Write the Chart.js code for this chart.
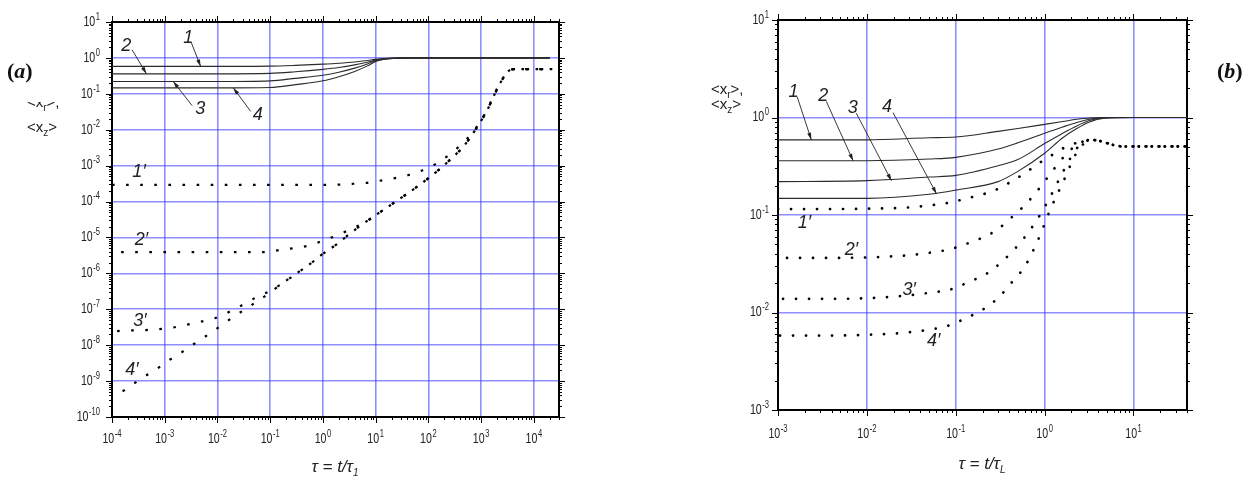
<!DOCTYPE html>
<html lang="en">
<head>
<meta charset="UTF-8" />
<title>&lt;x_r&gt;, &lt;x_z&gt; vs tau</title>
<script src="https://cdn.jsdelivr.net/npm/chart.js"></script>
<style>
  body { margin: 0; background: #fff; width: 1249px; height: 482px; position: relative; overflow: hidden;
         font-family: "Liberation Sans", Arial, sans-serif; color: #222; }
  .panel { position: absolute; top: 0; height: 482px; }
  #boxA { left: 0; width: 600px; }
  #boxB { left: 640px; width: 609px; }
  .tag { position: absolute; font: bold 22px/22px "Liberation Serif", "Times New Roman", serif; color: #111; }
  .ytitle { position: absolute; font-size: 15px; line-height: 15px; white-space: nowrap; }
  .clip { position: absolute; overflow: hidden; width: 40px; }
  .clip span { position: absolute; left: 0; }
  .xtitle { position: absolute; font-style: italic; font-size: 17px; line-height: 17px; white-space: nowrap; transform: translateX(-50%); }
  sub { font-size: 10px; vertical-align: -4px; line-height: 0; }
</style>
</head>
<body>
  <div class="panel" id="boxA"><canvas id="chartA"></canvas></div>
  <div class="panel" id="boxB"><canvas id="chartB"></canvas></div>

  <div class="tag" style="left:7px;top:60px">(<i>a</i>)</div>
  <div class="tag" style="left:1217px;top:60px">(<i>b</i>)</div>

  <!-- y titles: the upper line of (a) is half hidden in the original -->
  <div class="clip" style="left:27px;top:102px;height:12px"><span class="ytitle" style="top:-8px">&lt;x<sub>r</sub>&gt;,</span></div>
  <div class="ytitle" style="left:27px;top:119px">&lt;x<sub>z</sub>&gt;</div>
  <div class="ytitle" style="left:711px;top:81px">&lt;x<sub>r</sub>&gt;,</div>
  <div class="ytitle" style="left:711px;top:96px">&lt;x<sub>z</sub>&gt;</div>

  <div class="xtitle" style="left:335px;top:458px">τ = t/τ<sub>1</sub></div>
  <div class="xtitle" style="left:982px;top:455px">τ = t/τ<sub>L</sub></div>

<script>
  // ---------- panel (a) : tau = t/tau_1 ----------
  const aSolidX = [1e-4, 0.01, 0.1, 0.3, 1, 2, 4, 7, 10, 15, 25, 40, 2e4];
  const aLine1 = [0.58, 0.58, 0.59, 0.62, 0.67, 0.71, 0.77, 0.85, 0.91, 0.96, 0.99, 1, 1];
  const aLine2 = [0.36, 0.36, 0.37, 0.41, 0.48, 0.54, 0.64, 0.76, 0.87, 0.95, 0.99, 1, 1];
  const aLine3 = [0.22, 0.22, 0.23, 0.27, 0.33, 0.40, 0.52, 0.68, 0.84, 0.93, 0.985, 1, 1];
  const aLine4 = [0.146, 0.146, 0.15, 0.18, 0.23, 0.30, 0.42, 0.60, 0.80, 0.92, 0.98, 1, 1];

  const aDotX = [1e-4, 1.86e-4, 3.47e-4, 6.46e-4, 1.17e-3, 2.19e-3, 4.07e-3, 7.59e-3, 0.0138, 0.0257, 0.0479,
                 0.0891, 0.162, 0.302, 0.562, 1.0, 1.86, 3.47, 6.46, 12.0, 21.9, 40.7, 74.1, 138, 257, 468,
                 813, 1290, 1820, 2690, 3800, 5620, 22400];
  const aDot1 = [2.9e-4, 2.9e-4, 2.9e-4, 2.9e-4, 2.9e-4, 2.9e-4, 2.9e-4, 2.9e-4, 2.9e-4, 2.9e-4, 2.9e-4,
                 2.9e-4, 2.9e-4, 2.9e-4, 2.9e-4, 2.9e-4, 2.95e-4, 3.1e-4, 3.3e-4, 3.8e-4, 4.4e-4, 5.4e-4,
                 7.2e-4, 1.12e-3, 2.1e-3, 4.5e-3, 0.0117, 0.035, 0.105, 0.295, 0.48, 0.49, 0.49];
  const aDot2 = [3.9e-6, 3.9e-6, 3.9e-6, 3.9e-6, 3.9e-6, 3.9e-6, 3.9e-6, 3.9e-6, 3.9e-6, 3.9e-6, 3.9e-6,
                 3.9e-6, 4.6e-6, 5.1e-6, 6.0e-6, 8.1e-6, 1.15e-5, 1.74e-5, 2.7e-5, 5.0e-5, 9.1e-5, 1.7e-4,
                 3.2e-4, 6.5e-4, 1.45e-3, 3.5e-3, 0.011, 0.034, 0.10, 0.29, 0.48, 0.49, 0.49];
  const aDot3 = [2.4e-8, 2.57e-8, 2.6e-8, 2.75e-8, 2.95e-8, 3.5e-8, 4.3e-8, 5.2e-8, 7.4e-8, 1.17e-7, 1.95e-7,
                 3.0e-7, 5.0e-7, 9.5e-7, 1.8e-6, 3.5e-6, 6.6e-6, 1.38e-5, 2.7e-5, 5.0e-5, 9.1e-5, 1.7e-4,
                 3.2e-4, 6.5e-4, 1.45e-3, 3.5e-3, 0.011, 0.034, 0.10, 0.29, 0.48, 0.49, 0.49];
  const aDot4 = [3.6e-10, 6.0e-10, 1.15e-9, 2.0e-9, 3.7e-9, 6.6e-9, 1.23e-8, 2.24e-8, 4.2e-8, 7.8e-8, 1.41e-7,
                 2.6e-7, 5.0e-7, 9.5e-7, 1.8e-6, 3.5e-6, 6.6e-6, 1.38e-5, 2.7e-5, 5.0e-5, 9.1e-5, 1.7e-4,
                 3.2e-4, 6.5e-4, 1.45e-3, 3.5e-3, 0.011, 0.034, 0.10, 0.29, 0.48, 0.49, 0.49];

  const aXExp = [-4, -3, -2, -1, 0, 1, 2, 3, 4];
  const aYExp = [-10, -9, -8, -7, -6, -5, -4, -3, -2, -1, 0, 1];

  // curve labels (data coordinates), arrows point at the curve
  const aNotes = [
    { t: '1', x: 2.8e-3, y: 3.7, from: [3.18e-3, 2.7], to: [4.8e-3, 0.58] },
    { t: '2', x: 1.87e-4, y: 2.19, from: [2.4e-4, 1.69], to: [4.5e-4, 0.36] },
    { t: '3', x: 4.7e-3, y: 0.0368, from: [3.3e-3, 0.047], to: [1.45e-3, 0.22] },
    { t: '4', x: 0.0578, y: 0.0262, from: [0.0427, 0.0324], to: [0.02, 0.146] },
    { t: '1′', x: 3.26e-4, y: 6.6e-4 },
    { t: '2′', x: 3.6e-4, y: 8.6e-6 },
    { t: '3′', x: 3.4e-4, y: 4.6e-8 },
    { t: '4′', x: 2.4e-4, y: 2.07e-9 }
  ];

  // ---------- panel (b) : tau = t/tau_L ----------
  const bSolidX = [0.001, 0.01, 0.05, 0.1, 0.3, 0.5, 1, 1.6, 2.3, 3.2, 4.5, 10, 40];
  const bLine1 = [0.59, 0.59, 0.62, 0.63, 0.72, 0.77, 0.85, 0.91, 0.96, 0.99, 1, 1, 1];
  const bLine2 = [0.36, 0.36, 0.375, 0.39, 0.475, 0.55, 0.69, 0.80, 0.89, 0.96, 1, 1, 1];
  const bLine3 = [0.22, 0.225, 0.245, 0.255, 0.32, 0.37, 0.54, 0.69, 0.82, 0.93, 0.99, 1, 1];
  const bLine4 = [0.148, 0.148, 0.163, 0.18, 0.22, 0.28, 0.43, 0.62, 0.77, 0.90, 0.98, 1, 1];

  const bDotX = [0.001, 0.00316, 0.01, 0.0316, 0.0575, 0.0813, 0.115, 0.158, 0.224, 0.309, 0.427, 0.603,
                 0.832, 1.175, 1.62, 2.29, 2.82, 3.31, 3.98, 5.01, 6.31, 7.94, 10, 40];
  const bDot1 = [0.115, 0.115, 0.116, 0.120, 0.127, 0.133, 0.143, 0.154, 0.168, 0.188, 0.222, 0.269,
                 0.332, 0.405, 0.484, 0.55, 0.58, 0.59, 0.58, 0.547, 0.515, 0.504, 0.505, 0.505];
  const bDot2 = [0.0363, 0.0363, 0.0367, 0.0389, 0.0417, 0.044, 0.0483, 0.054, 0.0612, 0.0735, 0.095, 0.127,
                 0.178, 0.269, 0.389, 0.525, 0.575, 0.59, 0.58, 0.547, 0.515, 0.504, 0.505, 0.505];
  const bDot3 = [0.0138, 0.0138, 0.014, 0.0151, 0.0162, 0.0169, 0.019, 0.0215, 0.0251, 0.0314, 0.0417, 0.060,
                 0.091, 0.158, 0.28, 0.48, 0.56, 0.59, 0.58, 0.547, 0.515, 0.504, 0.505, 0.505];
  const bDot4 = [0.0058, 0.0058, 0.0059, 0.0063, 0.0068, 0.0073, 0.0083, 0.0095, 0.0114, 0.0145, 0.0204, 0.030,
                 0.054, 0.117, 0.22, 0.436, 0.55, 0.59, 0.58, 0.547, 0.515, 0.504, 0.505, 0.505];

  const bXExp = [-3, -2, -1, 0, 1];
  const bYExp = [-3, -2, -1, 0, 1];

  const bNotes = [
    { t: '1', x: 1.49e-3, y: 1.84, from: [1.64e-3, 1.64], to: [2.37e-3, 0.59] },
    { t: '2', x: 3.22e-3, y: 1.68, from: [3.5e-3, 1.46], to: [7.0e-3, 0.36] },
    { t: '3', x: 6.95e-3, y: 1.245, from: [7.6e-3, 1.107], to: [0.0189, 0.225] },
    { t: '4', x: 0.0169, y: 1.27, from: [0.0197, 1.12], to: [0.0607, 0.165] },
    { t: '1′', x: 1.98e-3, y: 0.0826 },
    { t: '2′', x: 6.7e-3, y: 0.044 },
    { t: '3′', x: 0.030, y: 0.0171 },
    { t: '4′', x: 0.0565, y: 0.00514 }
  ];

  // ---------- helpers ----------
  const SANS = '"Liberation Sans",Arial,sans-serif';
  const NARROW_X = 0.76;   // tick labels in the original are a condensed face
  const GRID_BLUE = 'rgba(50,50,255,0.55)';

  const isDecade = v => Math.abs(Math.log10(v) - Math.round(Math.log10(v))) < 1e-6;

  function decadeTicks(min, max) {
    const out = [];
    for (let e = Math.floor(Math.log10(min)); e <= Math.ceil(Math.log10(max)); e++) {
      for (let d = 1; d <= 9; d++) {
        const v = d * Math.pow(10, e);
        if (v >= min * 0.999999 && v <= max * 1.000001) out.push({ value: v });
      }
    }
    return out;
  }

  function axis(position, min, max, size, onArea) {
    return {
      type: 'logarithmic', position, min, max,
      afterBuildTicks: s => { s.ticks = decadeTicks(min, max); },
      afterFit: s => { if (s.isHorizontal()) s.height = size; else s.width = size; },
      ticks: { display: false },
      grid: {
        drawTicks: false, drawOnChartArea: onArea, lineWidth: 1.6,
        color: c => (c.tick && isDecade(c.tick.value)) ? GRID_BLUE : 'rgba(0,0,0,0)'
      },
      border: { display: true, color: '#000', width: 2 }
    };
  }

  const pts = (xs, ys) => xs.map((x, i) => ({ x, y: ys[i] }));

  function solid(xs, ys) {
    return { data: pts(xs, ys), borderColor: '#2b2b2b', borderWidth: 1.1, pointRadius: 0,
             cubicInterpolationMode: 'monotone', fill: false };
  }

  function dotted(xs, ys, dash, width, offset, cap) {
    return { data: pts(xs, ys), borderColor: '#000', borderWidth: width, borderDash: dash,
             borderDashOffset: offset, borderCapStyle: cap, pointRadius: 0,
             cubicInterpolationMode: 'monotone', fill: false };
  }

  // "10" with a raised exponent, condensed horizontally
  function drawPow(ctx, e, px, py, align) {
    ctx.font = '14px ' + SANS;
    const w1 = ctx.measureText('10').width * NARROW_X;
    ctx.font = '10px ' + SANS;
    const w2 = ctx.measureText(String(e)).width * NARROW_X;
    const w = w1 + w2 + 0.5;
    const left = align === 'center' ? px - w / 2 : px - w;
    ctx.save();
    ctx.translate(left, py);
    ctx.scale(NARROW_X, 1);
    ctx.textAlign = 'left';
    ctx.textBaseline = 'middle';
    ctx.font = '14px ' + SANS;
    ctx.fillText('10', 0, 0);
    ctx.font = '10px ' + SANS;
    ctx.fillText(String(e), (w1 + 0.5) / NARROW_X, -5);
    ctx.restore();
  }

  // outward major/minor ticks on the four sides + 10^n labels
  const framePlugin = {
    id: 'frame',
    afterDraw(chart, args, o) {
      const ctx = chart.ctx;
      const { x, x2, y, y2 } = chart.scales;
      ctx.save();
      ctx.strokeStyle = '#000';
      ctx.lineWidth = 1;
      [[x, false, 1], [x2, false, -1], [y, true, -1], [y2, true, 1]].forEach(([s, vert, dir]) => {
        const edge = vert ? (dir < 0 ? s.right : s.left) : (dir > 0 ? s.top : s.bottom);
        s.ticks.forEach(t => {
          const len = isDecade(t.value) ? 6 : 3;
          const p = Math.round(s.getPixelForValue(t.value)) + 0.5;
          ctx.beginPath();
          if (vert) { ctx.moveTo(edge, p); ctx.lineTo(edge + dir * len, p); }
          else { ctx.moveTo(p, edge); ctx.lineTo(p, edge + dir * len); }
          ctx.stroke();
        });
      });
      ctx.fillStyle = '#222';
      o.xExp.forEach(e => drawPow(ctx, e, x.getPixelForValue(Math.pow(10, e)), x.top + o.xGap, 'center'));
      o.yExp.forEach(e => drawPow(ctx, e, y.right - o.yGap, y.getPixelForValue(Math.pow(10, e)), 'right'));
      ctx.restore();
    }
  };

  // curve numbers with thin arrows
  const notesPlugin = {
    id: 'notes',
    afterDatasetsDraw(chart, args, o) {
      const ctx = chart.ctx, sx = chart.scales.x, sy = chart.scales.y;
      ctx.save();
      ctx.fillStyle = '#222';
      ctx.strokeStyle = '#222';
      ctx.lineWidth = 0.9;
      o.items.forEach(n => {
        ctx.font = 'italic 18px ' + SANS;
        ctx.textAlign = 'center';
        ctx.textBaseline = 'middle';
        ctx.fillText(n.t, sx.getPixelForValue(n.x), sy.getPixelForValue(n.y));
        if (!n.from) return;
        const ax = sx.getPixelForValue(n.from[0]), ay = sy.getPixelForValue(n.from[1]);
        const bx = sx.getPixelForValue(n.to[0]), by = sy.getPixelForValue(n.to[1]);
        ctx.beginPath(); ctx.moveTo(ax, ay); ctx.lineTo(bx, by); ctx.stroke();
        const a = Math.atan2(by - ay, bx - ax), L = 7, W = 2;
        ctx.beginPath();
        ctx.moveTo(bx, by);
        ctx.lineTo(bx - L * Math.cos(a) + W * Math.sin(a), by - L * Math.sin(a) - W * Math.cos(a));
        ctx.lineTo(bx - L * Math.cos(a) - W * Math.sin(a), by - L * Math.sin(a) + W * Math.cos(a));
        ctx.closePath(); ctx.fill();
      });
      ctx.restore();
    }
  };

  function makeChart(id, cfg) {
    return new Chart(document.getElementById(id), {
      type: 'line',
      data: { datasets: cfg.datasets },
      options: {
        responsive: true, maintainAspectRatio: false, animation: false, devicePixelRatio: 1, events: [],
        layout: { padding: 0 },
        scales: {
          x: axis('bottom', cfg.xMin, cfg.xMax, cfg.bottom, true),
          x2: axis('top', cfg.xMin, cfg.xMax, cfg.top, false),
          y: axis('left', cfg.yMin, cfg.yMax, cfg.left, true),
          y2: axis('right', cfg.yMin, cfg.yMax, cfg.right, false)
        },
        plugins: {
          legend: { display: false }, tooltip: { enabled: false },
          frame: { xExp: cfg.xExp, yExp: cfg.yExp, xGap: cfg.xGap, yGap: cfg.yGap },
          notes: { items: cfg.notes }
        }
      },
      plugins: [framePlugin, notesPlugin]
    });
  }

  const dashA = [2.6, 11.5];
  const dashB = [0.1, 12.9];

  makeChart('chartA', {
    xMin: 1e-4, xMax: 3e4, yMin: 1e-10, yMax: 10,
    left: 112, right: 41, top: 22, bottom: 65, xGap: 22, yGap: 12,
    xExp: aXExp, yExp: aYExp, notes: aNotes,
    datasets: [
      solid(aSolidX, aLine1), solid(aSolidX, aLine2), solid(aSolidX, aLine3), solid(aSolidX, aLine4),
      dotted(aDotX, aDot1, dashA, 2.2, 0, 'butt'),
      dotted(aDotX, aDot2, dashA, 2.2, 5, 'butt'),
      dotted(aDotX, aDot3, dashA, 2.2, 9, 'butt'),
      dotted(aDotX, aDot4, dashA, 2.2, 2, 'butt')
    ]
  });

  makeChart('chartB', {
    xMin: 1e-3, xMax: 40, yMin: 1e-3, yMax: 10,
    left: 138, right: 62, top: 20, bottom: 72, xGap: 24, yGap: 9,
    xExp: bXExp, yExp: bYExp, notes: bNotes,
    datasets: [
      solid(bSolidX, bLine1), solid(bSolidX, bLine2), solid(bSolidX, bLine3), solid(bSolidX, bLine4),
      dotted(bDotX, bDot1, dashB, 2.7, 0, 'round'),
      dotted(bDotX, bDot2, dashB, 2.7, 4, 'round'),
      dotted(bDotX, bDot3, dashB, 2.7, 8, 'round'),
      dotted(bDotX, bDot4, dashB, 2.7, 11, 'round')
    ]
  });
</script>
</body>
</html>
